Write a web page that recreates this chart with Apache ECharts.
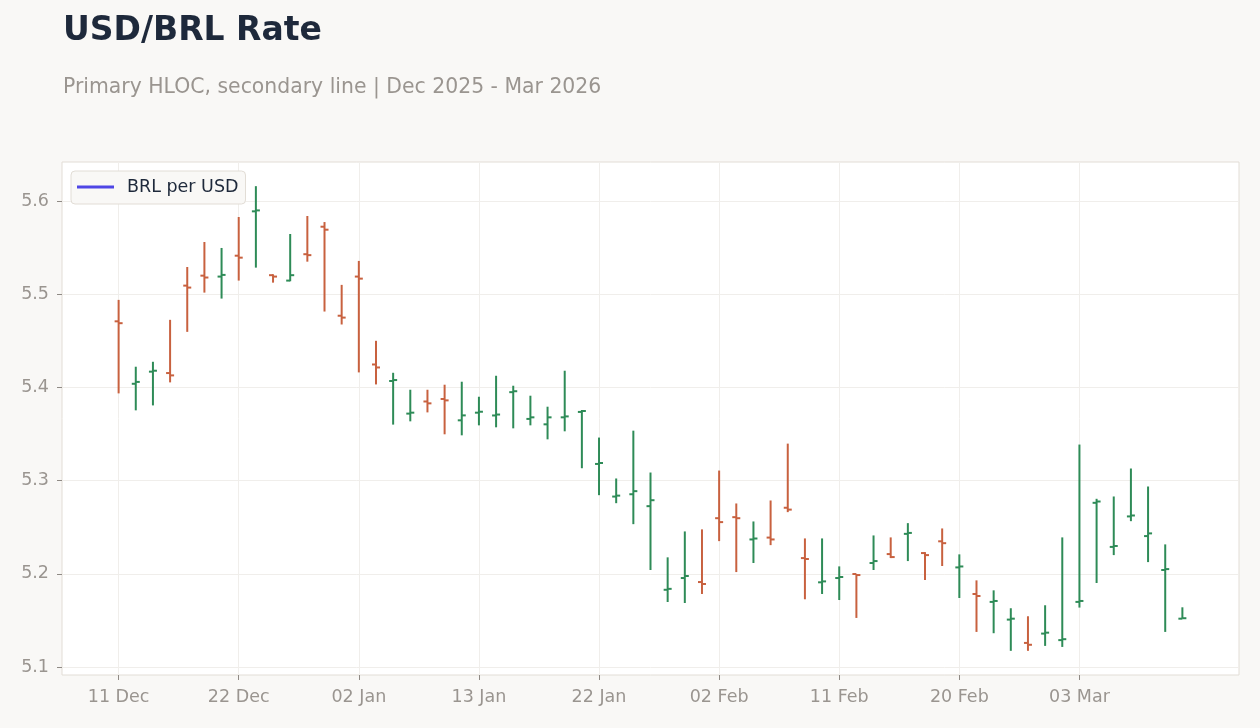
<!DOCTYPE html>
<html>
<head>
<meta charset="utf-8">
<title>USD/BRL Rate</title>
<script src="https://cdn.jsdelivr.net/npm/echarts@6/dist/echarts.min.js"></script>
<style>
  html, body { margin: 0; padding: 0; background: #f9f8f6; }
  #chart { width: 1260px; height: 728px; }
</style>
</head>
<body>
<div id="chart"></div>
<script>
// trading days (x categories)
const dates = ['11 Dec','12 Dec','15 Dec','16 Dec','17 Dec','18 Dec','19 Dec','22 Dec','23 Dec','24 Dec','26 Dec','29 Dec','30 Dec','31 Dec',
  '02 Jan','05 Jan','06 Jan','07 Jan','08 Jan','09 Jan','12 Jan','13 Jan','14 Jan','15 Jan','16 Jan','19 Jan','20 Jan','21 Jan','22 Jan','23 Jan','26 Jan','27 Jan','28 Jan','29 Jan','30 Jan',
  '02 Feb','03 Feb','04 Feb','05 Feb','06 Feb','09 Feb','10 Feb','11 Feb','12 Feb','13 Feb','16 Feb','17 Feb','18 Feb','19 Feb','20 Feb','23 Feb','24 Feb','25 Feb','26 Feb','27 Feb',
  '02 Mar','03 Mar','04 Mar','05 Mar','06 Mar','09 Mar','10 Mar','11 Mar'];

const open = [5.471,5.404,5.417,5.4155,5.5093,5.520,5.519,5.5414,5.589,5.5205,5.5147,5.543,5.5725,5.477,5.519,5.4247,5.407,5.372,5.385,5.3877,5.3648,5.373,5.370,5.395,5.3663,5.3605,5.368,5.3738,5.318,5.283,5.2855,5.2727,5.183,5.1956,5.1913,5.2598,5.2609,5.237,5.239,5.271,5.217,5.191,5.1956,5.1999,5.2117,5.2213,5.243,5.2224,5.235,5.207,5.1785,5.170,5.151,5.126,5.136,5.129,5.170,5.2763,5.229,5.2617,5.2406,5.2042,5.152];
const high = [5.494,5.4223,5.4276,5.4726,5.5293,5.5561,5.5497,5.5829,5.616,5.5215,5.5647,5.584,5.5775,5.5101,5.5358,5.4501,5.4158,5.3976,5.3976,5.403,5.4062,5.3901,5.4126,5.4019,5.3912,5.3794,5.418,5.3759,5.3463,5.3024,5.3537,5.3088,5.2178,5.2456,5.2478,5.3109,5.2756,5.2563,5.2788,5.3398,5.2381,5.2381,5.2081,5.1999,5.2413,5.2392,5.2545,5.2234,5.2488,5.221,5.1931,5.1824,5.1632,5.1546,5.1664,5.2392,5.3388,5.2806,5.2831,5.3131,5.2938,5.2317,5.1642];
const low = [5.3937,5.3755,5.3808,5.4055,5.4597,5.5018,5.4954,5.5147,5.5286,5.5125,5.514,5.535,5.4815,5.4676,5.4162,5.4033,5.3602,5.3637,5.3733,5.3498,5.3487,5.3594,5.3573,5.3562,5.3594,5.3444,5.353,5.3134,5.2845,5.2759,5.2534,5.2042,5.1699,5.1688,5.1785,5.2352,5.202,5.2117,5.2309,5.2663,5.1728,5.1785,5.172,5.1528,5.2042,5.217,5.2138,5.1935,5.2085,5.1742,5.1378,5.1364,5.1175,5.1175,5.1228,5.1217,5.1639,5.1903,5.2202,5.2566,5.2127,5.1378,5.152];
const close = [5.469,5.406,5.418,5.413,5.5072,5.518,5.5208,5.5393,5.590,5.519,5.5205,5.542,5.5693,5.475,5.5168,5.4215,5.408,5.373,5.383,5.3862,5.3701,5.374,5.371,5.396,5.368,5.368,5.369,5.3748,5.319,5.284,5.2888,5.2791,5.184,5.1978,5.1892,5.2556,5.2598,5.238,5.237,5.269,5.216,5.192,5.1967,5.1988,5.2138,5.2181,5.244,5.2202,5.233,5.208,5.1763,5.171,5.152,5.124,5.137,5.130,5.171,5.2777,5.230,5.2627,5.2435,5.2052,5.1525];

const xTicks = [0, 7, 14, 21, 28, 35, 42, 49, 56];
const yTicks = [5.1, 5.2, 5.3, 5.4, 5.5, 5.6];
const lineData = []; // secondary line (legend only)

const UP = '#2e8b57';
const DOWN = '#c8613f';
const FONT = 'DejaVu Sans';

var chart = echarts.init(document.getElementById('chart'));

var hloc = dates.map(function (d, i) {
  return [i, open[i], high[i], low[i], close[i]];
});

var yMin = Math.min.apply(null, low), yMax = Math.max.apply(null, high);
var pad = (yMax - yMin) * 0.052;

function renderItem(params, api) {
  var i = api.value(0);
  var o = api.coord([i, api.value(1)]);
  var h = api.coord([i, api.value(2)]);
  var l = api.coord([i, api.value(3)]);
  var c = api.coord([i, api.value(4)]);
  var color = api.value(4) >= api.value(1) ? UP : DOWN;
  var style = { stroke: color, lineWidth: 2 };
  return {
    type: 'group',
    children: [
      { type: 'line', shape: { x1: h[0], y1: h[1], x2: l[0], y2: l[1] }, style: style },
      { type: 'line', shape: { x1: o[0] - 4, y1: o[1], x2: o[0], y2: o[1] }, style: style },
      { type: 'line', shape: { x1: c[0], y1: c[1], x2: c[0] + 4, y2: c[1] }, style: style }
    ]
  };
}

var option = {
  backgroundColor: '#f9f8f6',
  textStyle: { fontFamily: FONT },
  title: [
    {
      text: 'USD/BRL Rate',
      left: 58, top: 10,
      textStyle: { fontFamily: FONT, fontSize: 33, fontWeight: 'bold', color: '#1e293b' }
    },
    {
      text: 'Primary HLOC, secondary line | Dec 2025 - Mar 2026',
      left: 58, top: 73,
      textStyle: { fontFamily: FONT, fontSize: 20.4, fontWeight: 'normal', color: '#9a9590' }
    }
  ],
  legend: {
    data: ['BRL per USD'],
    left: 71, top: 171,
    padding: [7, 7, 8, 6],
    icon: 'rect',
    itemWidth: 37, itemHeight: 3,
    backgroundColor: '#f9f8f6',
    borderColor: '#e2ddd6', borderWidth: 1, borderRadius: 4,
    textStyle: { fontFamily: FONT, fontSize: 17.5, color: '#1e293b', padding: [0, 0, 0, 8] }
  },
  grid: {
    left: 62, right: 21, top: 162, bottom: 53,
    show: true, backgroundColor: '#ffffff', borderColor: '#e2ddd6', borderWidth: 1
  },
  xAxis: {
    type: 'value',
    min: -3.3, max: 65.3,
    axisLine: { show: false, onZero: false },
    axisTick: { show: true, length: 5, customValues: xTicks, lineStyle: { color: '#8f8a85' } },
    axisLabel: {
      customValues: xTicks, margin: 13, fontSize: 17.5, color: '#9a9590', fontFamily: FONT,
      formatter: function (v) { return dates[v] || ''; }
    },
    splitLine: { show: true, lineStyle: { color: '#f0eeeb', width: 1 } }
  },
  yAxis: {
    type: 'value',
    min: yMin - pad, max: yMax + pad,
    axisLine: { show: false, onZero: false },
    axisTick: { show: true, length: 5, customValues: yTicks, lineStyle: { color: '#8f8a85' } },
    axisLabel: {
      customValues: yTicks, margin: 13, fontSize: 17.5, color: '#9a9590', fontFamily: FONT,
      formatter: function (v) { return v.toFixed(1); }
    },
    splitLine: { show: true, lineStyle: { color: '#f0eeeb', width: 1 } }
  },
  series: [
    {
      name: 'HLOC',
      type: 'custom',
      renderItem: renderItem,
      encode: { x: 0, y: [1, 2, 3, 4] },
      data: hloc,
      z: 3
    },
    {
      name: 'BRL per USD',
      type: 'line',
      symbol: 'none',
      color: '#4f46e5',
      lineStyle: { width: 3, color: '#4f46e5' },
      data: lineData
    }
  ]
};

chart.setOption(option);
</script>
</body>
</html>
